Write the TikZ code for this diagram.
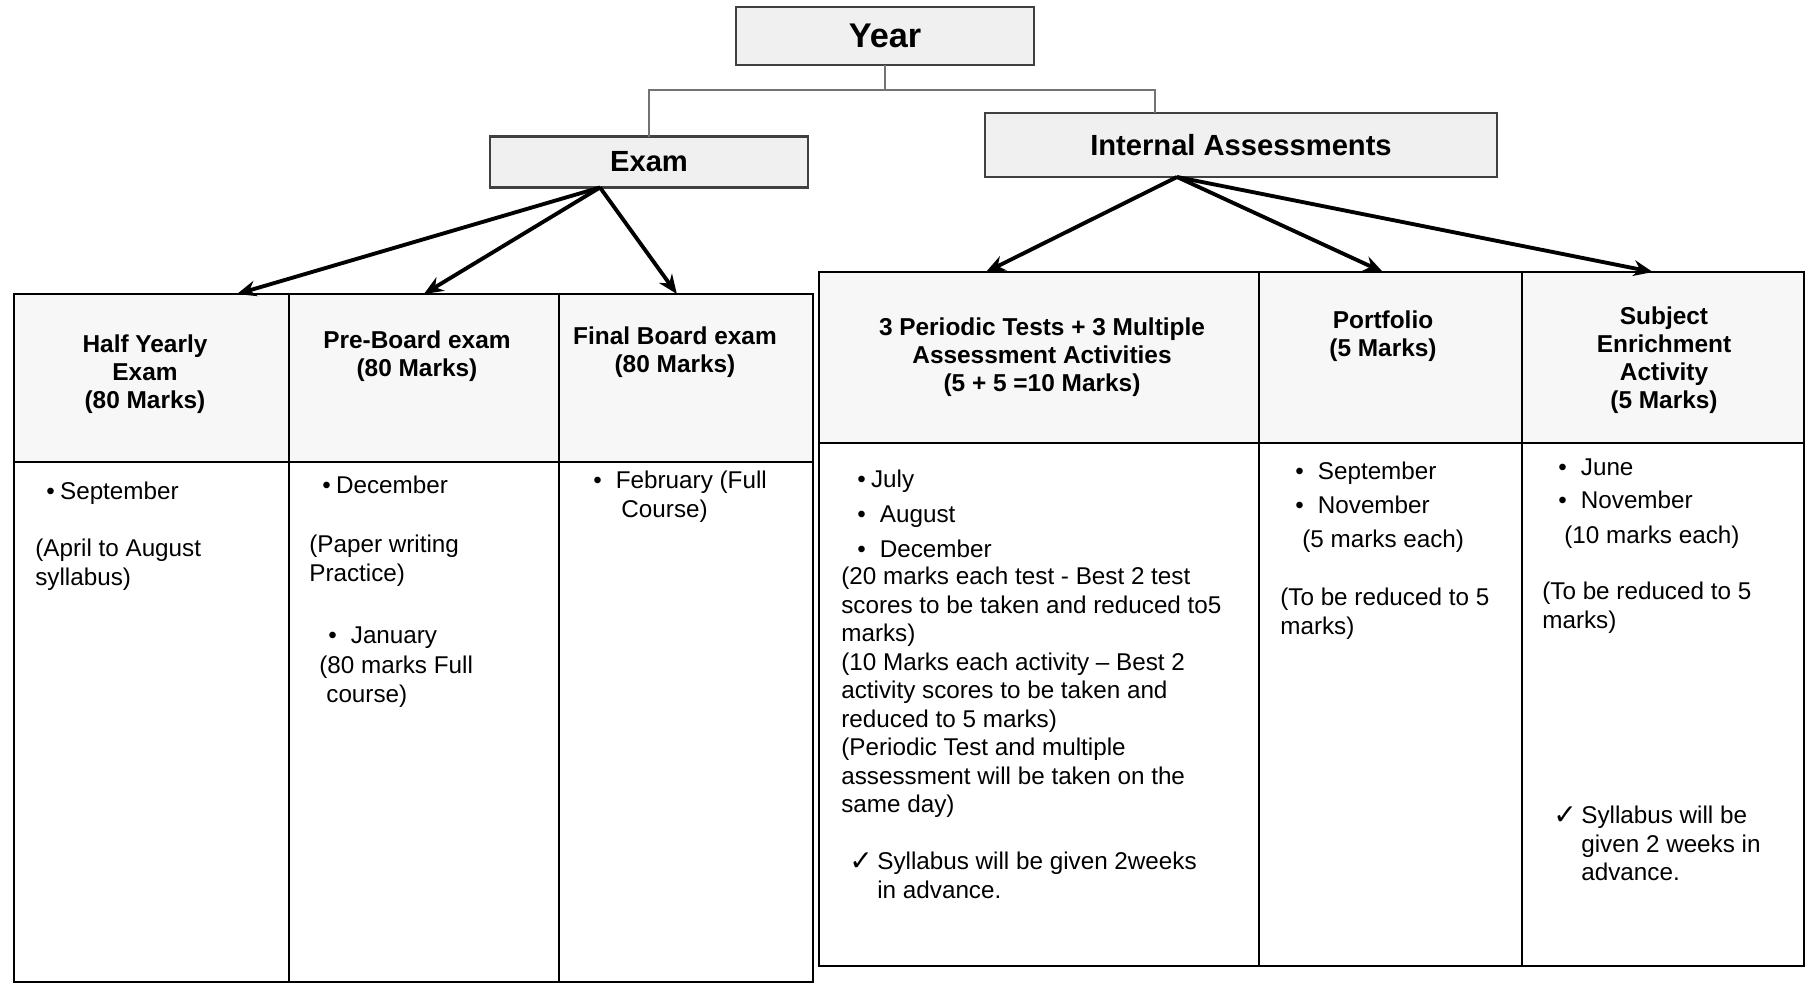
\documentclass[tikz,border=0pt]{standalone}
\usepackage{fontspec}
\setmainfont{Liberation Sans}
\newfontfamily\ticksym{DejaVu Sans}
\usetikzlibrary{arrows.meta, positioning}

\begin{document}
\begin{tikzpicture}[x=0.02cm, y=-0.02cm,
    topbox/.style={draw=black!75, line width=1.6pt, fill=black!6, outer sep=0pt, font=\bfseries\fontsize{16.6}{19}\selectfont},
    cell/.style={draw, line width=1.1pt, outer sep=0pt, inner sep=0pt, anchor=north west},
    headcell/.style={cell, fill=black!3},
    headtext/.style={anchor=north, align=center, inner sep=0pt, font=\bfseries\fontsize{13.9}{16}\selectfont},
    bodytext/.style={anchor=north west, align=left, inner sep=0pt, font=\fontsize{13.8}{16.2}\selectfont},
    tick/.style={anchor=west, inner sep=0pt, font=\ticksym\fontsize{16}{18}\selectfont},
    branch/.style={draw=black!55, line width=1pt}]

    \useasboundingbox (0,0) rectangle (1815,984);

    \node (year) [topbox, minimum width=5.96cm, minimum height=1.16cm, font=\bfseries\fontsize{19.5}{22}\selectfont] at (885,36) {Year};
    \node (exam) [topbox, minimum width=6.36cm, minimum height=1.02cm] at (649,162) {Exam};
    \node (ia) [topbox, minimum width=10.24cm, minimum height=1.28cm] at (1241,145) {Internal Assessments};

    \draw [branch] (year.south) -- ++(0,25) -| (exam.north);
    \draw [branch] (year.south) -- ++(0,25) -| ([xshift=-1.72cm]ia.north);

    \node (h1) [headcell, minimum width=5.5cm, minimum height=3.36cm] at (14,294) {};
    \node (h2) [headcell, right=0pt of h1, minimum width=5.4cm, minimum height=3.36cm] {};
    \node (h3) [headcell, right=0pt of h2, minimum width=5.08cm, minimum height=3.36cm] {};
    \node (b1) [cell, below=0pt of h1, minimum width=5.5cm, minimum height=10.4cm] {};
    \node (b2) [cell, below=0pt of h2, minimum width=5.4cm, minimum height=10.4cm] {};
    \node (b3) [cell, below=0pt of h3, minimum width=5.08cm, minimum height=10.4cm] {};

    \node (h4) [headcell, minimum width=8.8cm, minimum height=3.42cm] at (819,272) {};
    \node (h5) [headcell, right=0pt of h4, minimum width=5.26cm, minimum height=3.42cm] {};
    \node (h6) [headcell, right=0pt of h5, minimum width=5.64cm, minimum height=3.42cm] {};
    \node (b4) [cell, below=0pt of h4, minimum width=8.8cm, minimum height=10.46cm] {};
    \node (b5) [cell, below=0pt of h5, minimum width=5.26cm, minimum height=10.46cm] {};
    \node (b6) [cell, below=0pt of h6, minimum width=5.64cm, minimum height=10.46cm] {};

    \path [-{Stealth[length=11pt, width=9pt]}, line width=2.2pt]
        ([xshift=-0.98cm]exam.south) edge ([xshift=1.71cm]h1.north)
        ([xshift=-0.98cm]exam.south) edge (h2.north)
        ([xshift=-0.98cm]exam.south) edge ([xshift=-0.18cm]h3.north)
        ([xshift=-1.28cm]ia.south) edge ([xshift=-1.06cm]h4.north)
        ([xshift=-1.28cm]ia.south) edge ([xshift=-0.15cm]h5.north)
        ([xshift=-1.28cm]ia.south) edge ([xshift=-0.2cm]h6.north);

    \node (t1) [headtext] at (145,334) {Half Yearly\\Exam\\(80 Marks)};
    \node (t2) [headtext] at (417,330) {Pre-Board exam\\(80 Marks)};
    \node (t3) [headtext] at (675,326) {Final Board exam\\(80 Marks)};
    \node (t4) [headtext] at (1042,317) {3 Periodic Tests + 3 Multiple\\Assessment Activities\\(5 + 5 =10 Marks)};
    \node (t5) [headtext] at (1383,310) {Portfolio\\(5 Marks)};
    \node (t6) [headtext] at (1664,306) {Subject\\Enrichment\\Activity\\(5 Marks)};

    \node (sep) [bodytext] at (46,482) {•\hspace{3pt}September};
    \node (apr) [bodytext] at (35,539) {(April to August\\syllabus)};

    \node (dec) [bodytext] at (322,476) {•\hspace{3pt}December};
    \node (paper) [bodytext] at (309,535) {(Paper writing\\Practice)};
    \node (jan) [bodytext] at (328,626) {•\hspace{8pt}January};
    \node (full) [bodytext] at (319,656) {(80 marks Full\\\hspace*{4pt}course)};

    \node (feb) [bodytext] at (593,471) {•\hspace{8pt}February (Full\\\hspace*{16pt}Course)};

    \node (months) [bodytext] at (857,470) {•\hspace{3pt}July\\[3.6pt]•\hspace{8pt}August\\[3.6pt]•\hspace{8pt}December};
    \node (rules) [bodytext] at (841,567) {(20 marks each test - Best 2 test\\scores to be taken and reduced to5\\marks)\\(10 Marks each activity -- Best 2\\activity scores to be taken and\\reduced to 5 marks)\\(Periodic Test and multiple\\assessment will be taken on the\\same day)};
    \node (tick1) [tick] at (849,862) {✓};
    \node (syl1) [bodytext] at (877,852) {Syllabus will be given 2weeks\\in advance.};

    \node (pmonths) [bodytext] at (1295,462) {•\hspace{8pt}September\\[3pt]•\hspace{8pt}November};
    \node (peach) [bodytext] at (1302,530) {(5 marks each)};
    \node (pred) [bodytext] at (1280,588) {(To be reduced to 5\\marks)};

    \node (smonths) [bodytext] at (1558,458) {•\hspace{8pt}June\\[3pt]•\hspace{8pt}November};
    \node (seach) [bodytext] at (1564,526) {(10 marks each)};
    \node (sred) [bodytext] at (1542,582) {(To be reduced to 5\\marks)};
    \node (tick2) [tick] at (1553,816) {✓};
    \node (syl2) [bodytext] at (1581,806) {Syllabus will be\\given 2 weeks in\\advance.};
\end{tikzpicture}
\end{document}
